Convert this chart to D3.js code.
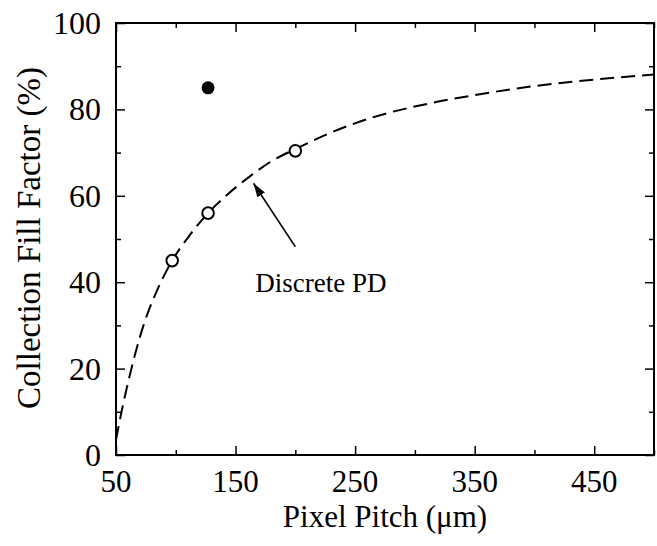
<!DOCTYPE html>
<html>
<head>
<meta charset="utf-8">
<script src="https://cdn.jsdelivr.net/npm/d3@7"></script>
<style>
  body { margin: 0; background: #fff; }
  svg text { font-family: "Liberation Serif", "Times New Roman", serif; }
</style>
</head>
<body>
<svg id="chart" width="657" height="546"></svg>
<script>
// dashed model curve
const curvePitch = [50, 55, 62, 73, 85, 97, 112, 127, 144, 162, 180, 200, 227, 263, 316, 350, 397, 450, 500];
const curveFF    = [3.5, 10.5, 19, 30, 38.5, 45, 51, 56, 60.5, 64.5, 68, 70.8, 74.3, 78, 81.6, 83.3, 85.3, 86.9, 88.1];

// measured points
const openPitch = [97, 127, 200];
const openFF    = [45, 56, 70.4];
const filledPitch = [127];
const filledFF    = [85];

const xTicks = [50, 150, 250, 350, 450];
const xMinor = [100, 200, 300, 400, 500];
const yTicks = [0, 20, 40, 60, 80, 100];
const yMinor = [10, 30, 50, 70, 90];

const svg = d3.select("#chart");
const margin = { left: 116, right: 3, top: 23, bottom: 91 };
const width = 657 - margin.left - margin.right;
const height = 546 - margin.top - margin.bottom;

const x = d3.scaleLinear().domain([50, 500]).range([margin.left, margin.left + width]);
const y = d3.scaleLinear().domain([0, 100]).range([margin.top + height, margin.top]);

const g = svg.append("g");

// ticks on all four sides, pointing inward
function ticks(axisFn, vals, len, transform) {
    g.append("g")
        .attr("transform", transform)
        .call(axisFn.tickValues(vals).tickSize(-len).tickFormat(""))
        .call(a => a.select(".domain").remove())
        .call(a => a.selectAll("line").attr("stroke", "#000").attr("stroke-width", 1.5));
}
ticks(d3.axisBottom(x), xTicks, 9, `translate(0,${y(0)})`);
ticks(d3.axisBottom(x), xMinor, 5, `translate(0,${y(0)})`);
ticks(d3.axisTop(x), xTicks, 9, `translate(0,${y(100)})`);
ticks(d3.axisTop(x), xMinor, 5, `translate(0,${y(100)})`);
ticks(d3.axisLeft(y), yTicks, 9, `translate(${x(50)},0)`);
ticks(d3.axisLeft(y), yMinor, 5, `translate(${x(50)},0)`);
ticks(d3.axisRight(y), yTicks, 9, `translate(${x(500)},0)`);
ticks(d3.axisRight(y), yMinor, 5, `translate(${x(500)},0)`);

g.append("rect")
    .attr("x", x(50)).attr("y", y(100))
    .attr("width", x(500) - x(50)).attr("height", y(0) - y(100))
    .attr("fill", "none").attr("stroke", "#000").attr("stroke-width", 2);

// tick labels
g.selectAll(".xl").data(xTicks).join("text")
    .attr("x", d => x(d)).attr("y", y(0) + 37)
    .attr("text-anchor", "middle").attr("fill", "#000").style("font-size", "31px")
    .text(d => d);

g.selectAll(".yl").data(yTicks).join("text")
    .attr("x", x(50) - 15).attr("y", d => y(d) + 11)
    .attr("text-anchor", "end").attr("fill", "#000").style("font-size", "32px")
    .text(d => d);

// axis titles
svg.append("text")
    .attr("x", (x(50) + x(500)) / 2).attr("y", 527)
    .attr("text-anchor", "middle").attr("fill", "#000").style("font-size", "31px")
    .text("Pixel Pitch (\u03bcm)");

svg.append("text")
    .attr("transform", `translate(40,${238}) rotate(-90)`)
    .attr("text-anchor", "middle").attr("fill", "#000").style("font-size", "33px")
    .text("Collection Fill Factor (%)");

// dashed curve
const curve = curvePitch.map((p, i) => ({ p, f: curveFF[i] }));
g.append("path")
    .datum(curve)
    .attr("fill", "none").attr("stroke", "#000")
    .attr("stroke-width", 2).attr("stroke-dasharray", "14,7")
    .attr("d", d3.line().x(d => x(d.p)).y(d => y(d.f)).curve(d3.curveMonotoneX));

// points
g.selectAll(".open").data(openPitch).join("circle")
    .attr("cx", d => x(d)).attr("cy", (d, i) => y(openFF[i])).attr("r", 5.8)
    .attr("fill", "#fff").attr("stroke", "#000").attr("stroke-width", 2);

g.selectAll(".filled").data(filledPitch).join("circle")
    .attr("cx", d => x(d)).attr("cy", (d, i) => y(filledFF[i])).attr("r", 6.5)
    .attr("fill", "#000");

// annotation arrow
svg.append("defs").append("marker")
    .attr("id", "head").attr("viewBox", "0 0 14 9")
    .attr("refX", 14).attr("refY", 4.5)
    .attr("markerWidth", 14).attr("markerHeight", 9)
    .attr("markerUnits", "userSpaceOnUse").attr("orient", "auto")
    .append("path").attr("d", "M0,0 L14,4.5 L0,9 Z").attr("fill", "#000");

g.append("line")
    .attr("x1", x(200)).attr("y1", y(48.2))
    .attr("x2", x(165)).attr("y2", y(62.9))
    .attr("stroke", "#000").attr("stroke-width", 1.5)
    .attr("marker-end", "url(#head)");

g.append("text")
    .attr("x", x(166.5)).attr("y", y(37.8))
    .attr("fill", "#000").style("font-size", "27px")
    .text("Discrete PD");
</script>
</body>
</html>
